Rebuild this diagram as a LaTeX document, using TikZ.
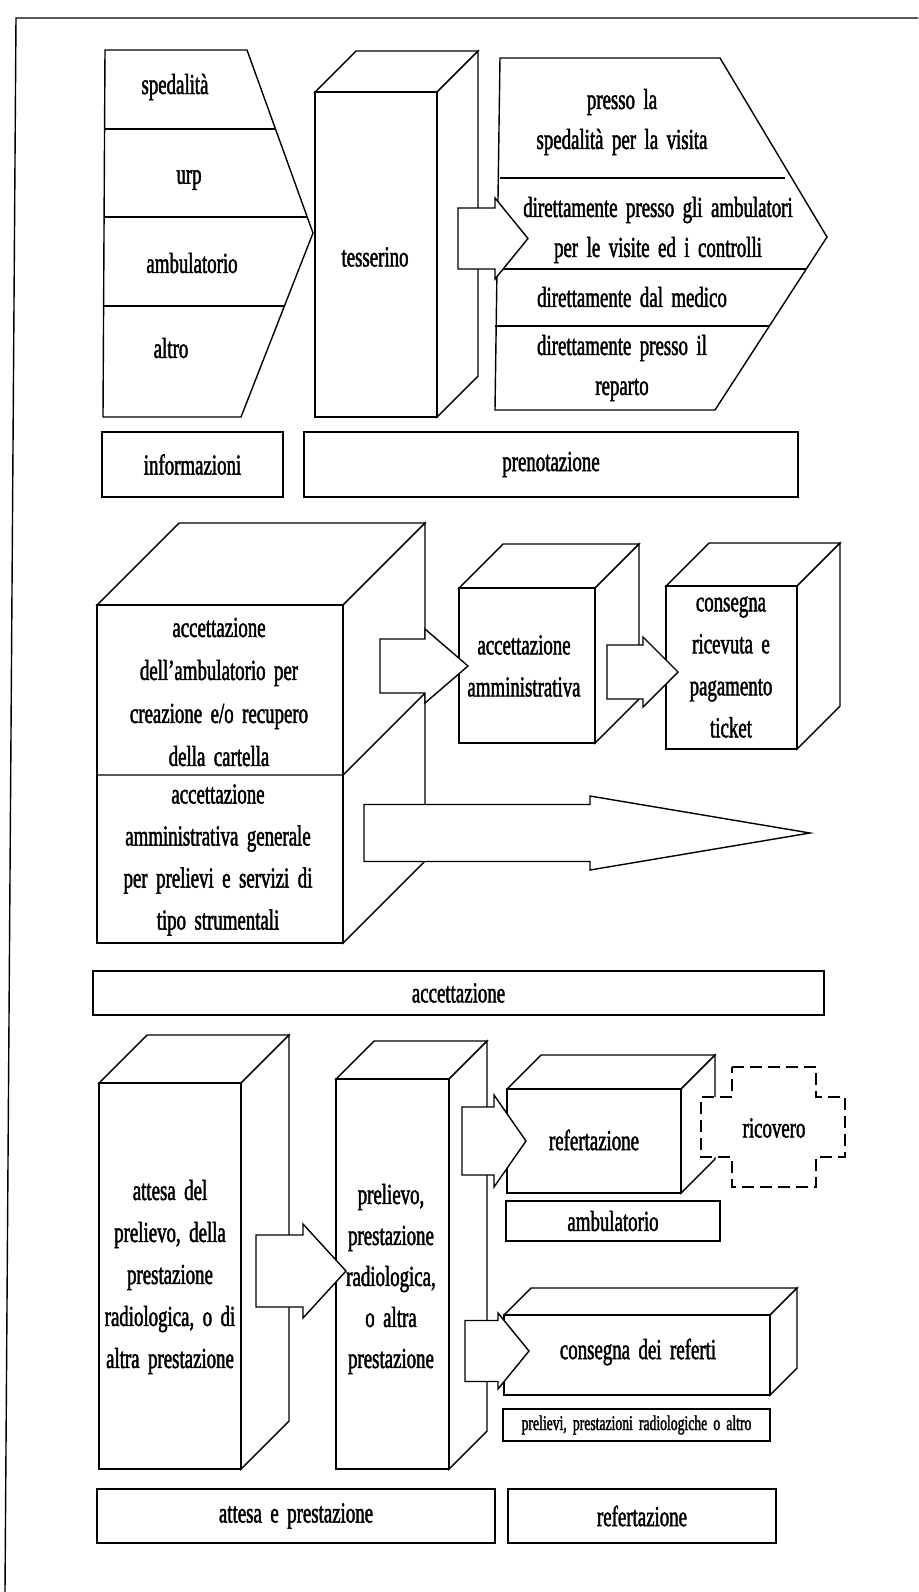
\documentclass[tikz,border=0pt]{standalone}
\usepackage{fontspec}
\setmainfont{Liberation Serif}[FakeStretch=0.65,FakeBold=1.6,WordSpace=1.8]
\usetikzlibrary{positioning}

% 3D box: name, left, top, right, bottom, depth (units = scan pixels)
\newcommand{\solidbox}[6]{%
  \draw[face] (#2,#3) -- ++(#6,-#6) -- ({#4+#6},{#3-#6}) -- (#4,#3) -- cycle;
  \draw[face] (#4,#3) -- ({#4+#6},{#3-#6}) -- ({#4+#6},{#5-#6}) -- (#4,#5) -- cycle;
  \node[face, inner sep=0pt, minimum width={(#4-#2)*0.5pt},
        minimum height={(#5-#3)*0.5pt}] (#1) at ({(#2+#4)/2},{(#3+#5)/2}) {};}

% block arrow: name, tail x, mid y, half shaft, head x, half head, tip x
\newcommand{\blkarrow}[7]{%
  \draw[blk] (#2,{#3-#4}) -- (#5,{#3-#4}) -- (#5,{#3-#6}) -- (#7,#3)
    -- (#5,{#3+#6}) -- (#5,{#3+#4}) -- (#2,{#3+#4}) -- cycle;
  \coordinate (#1) at (#7,#3);}

\begin{document}
\begin{tikzpicture}[x=0.5pt, y=-0.5pt, line width=0.7pt,
  face/.style={draw, fill=white},
  blk/.style={draw, fill=white},
  lbl/.style={draw, inner sep=0pt, font=\fontsize{14.5}{16}\selectfont},
  txt/.style={align=center, inner sep=0pt, font=\fontsize{14.5}{21}\selectfont},
  tinylbl/.style={lbl, font=\fontsize{10.5}{12}\selectfont},
  cross/.style={draw, fill=white, dash pattern=on 6pt off 3pt},
]
\useasboundingbox (0,0) rectangle (918,1592);
\draw (5,1592) -- (16,18) -- (918,18);

% informazioni / prenotazione
\draw[face] (105,50) -- (247,50) -- (313,233) -- (241,417) -- (103,417) -- cycle;
\draw (105,129) -- (275,129) (104,217) -- (307,217) (104,306) -- (284,306);
\solidbox{tess}{315}{92}{437}{417}{41}
\draw[face] (500,58) -- (720,58) -- (827,237) -- (715,410) -- (495,410) -- cycle;
\draw (500,178) -- (785,178) (496,269) -- (806,269) (495,326) -- (769,326);
\blkarrow{ar1}{458}{238.5}{30.5}{495}{40.5}{528}

\node[txt] (sped) at (175,87) {spedalità};
\node[txt] (urp) at (189,180) {urp};
\node[txt] (ambu) at (192,263) {ambulatorio};
\node[txt] (altro) at (171,348) {altro};
\node[txt] (tessTxt) at (375,257) {tesserino};
\node[txt, font=\fontsize{14.5}{20}\selectfont] (pressoSped) at (622,122) {presso la\\spedalità per la visita};
\node[txt, font=\fontsize{14.5}{20}\selectfont] (dirAmb) at (658,230) {direttamente presso gli ambulatori\\per le visite ed i controlli};
\node[txt] (dirMed) at (632,297) {direttamente dal medico};
\node[txt, font=\fontsize{14.5}{20}\selectfont] (dirRep) at (622,368) {direttamente presso il\\reparto};

\node[lbl, minimum width=90.5pt, minimum height=32.5pt] (info) at (192.5,464.5) {informazioni};
\node[lbl, minimum width=247pt, minimum height=32.5pt] (preno) at (551,464.5) {prenotazione};

% accettazione
\solidbox{accAmb}{97}{605}{343}{943}{82}
\draw (97,775) -- (343,775) -- ++(82,-82);
\solidbox{accAdm}{459}{588}{595}{743}{44}
\solidbox{ricev}{666}{586}{797}{749}{43}
\blkarrow{ar2}{380}{666}{27}{425}{37}{468}
\blkarrow{ar3}{607}{672}{27}{643}{35}{678}
\blkarrow{ar4}{364}{833}{28.5}{590}{37}{810}

\node[txt, font=\fontsize{14.5}{21.5}\selectfont] (accAmbTxt) at (219,692) {accettazione\\dell'ambulatorio per\\creazione e/o recupero\\della cartella};
\node[txt] (accGenTxt) at (218,860) {accettazione\\amministrativa generale\\per prelievi e servizi di\\tipo strumentali};
\node[txt] (accAdmTxt) at (524,666) {accettazione\\amministrativa};
\node[txt] (ricevTxt) at (731,667) {consegna\\ricevuta e\\pagamento\\ticket};

\node[lbl, minimum width=365.5pt, minimum height=22pt] (accLbl) at (458.5,993) {accettazione};

% attesa, prestazione, refertazione
\solidbox{attesa}{99}{1083}{241}{1469}{48}
\solidbox{prel}{336}{1079}{449}{1469}{38}
\solidbox{refert}{507}{1089}{681}{1193}{34}
\solidbox{consRef}{504}{1315}{770}{1395}{27}
\draw[cross] (732,1067) -- (816,1067) -- (816,1097) -- (845,1097) -- (845,1157)
  -- (816,1157) -- (816,1187) -- (732,1187) -- (732,1157) -- (701,1157)
  -- (701,1097) -- (732,1097) -- cycle;
\blkarrow{ar5}{256}{1271}{36}{303}{47}{346}
\blkarrow{ar6}{462}{1141}{34}{494}{46}{526}
\blkarrow{ar7}{465}{1351}{30.5}{498}{38}{529}

\node[txt] (attesaTxt) at (170,1277) {attesa del\\prelievo, della\\prestazione\\radiologica, o di\\altra prestazione};
\node[txt, font=\fontsize{14.5}{20.5}\selectfont] (prelTxt) at (391,1279) {prelievo,\\prestazione\\radiologica,\\o altra\\prestazione};
\node[txt] (refertTxt) at (594,1140) {refertazione};
\node[txt] (ricovTxt) at (774,1128) {ricovero};
\node[txt] (consRefTxt) at (638,1352) {consegna dei referti};

\node[lbl, minimum width=107pt, minimum height=20pt] (ambuLbl) at (613,1221) {ambulatorio};
\node[tinylbl, minimum width=133.5pt, minimum height=16pt] (prelLbl) at (636.5,1425) {prelievi, prestazioni radiologiche o altro};
\node[lbl, minimum width=199pt, minimum height=27pt] (attLbl) at (296,1516) {attesa e prestazione};
\node[lbl, minimum width=134pt, minimum height=27pt] (refLbl) at (642,1516) {refertazione};
\end{tikzpicture}
\end{document}
